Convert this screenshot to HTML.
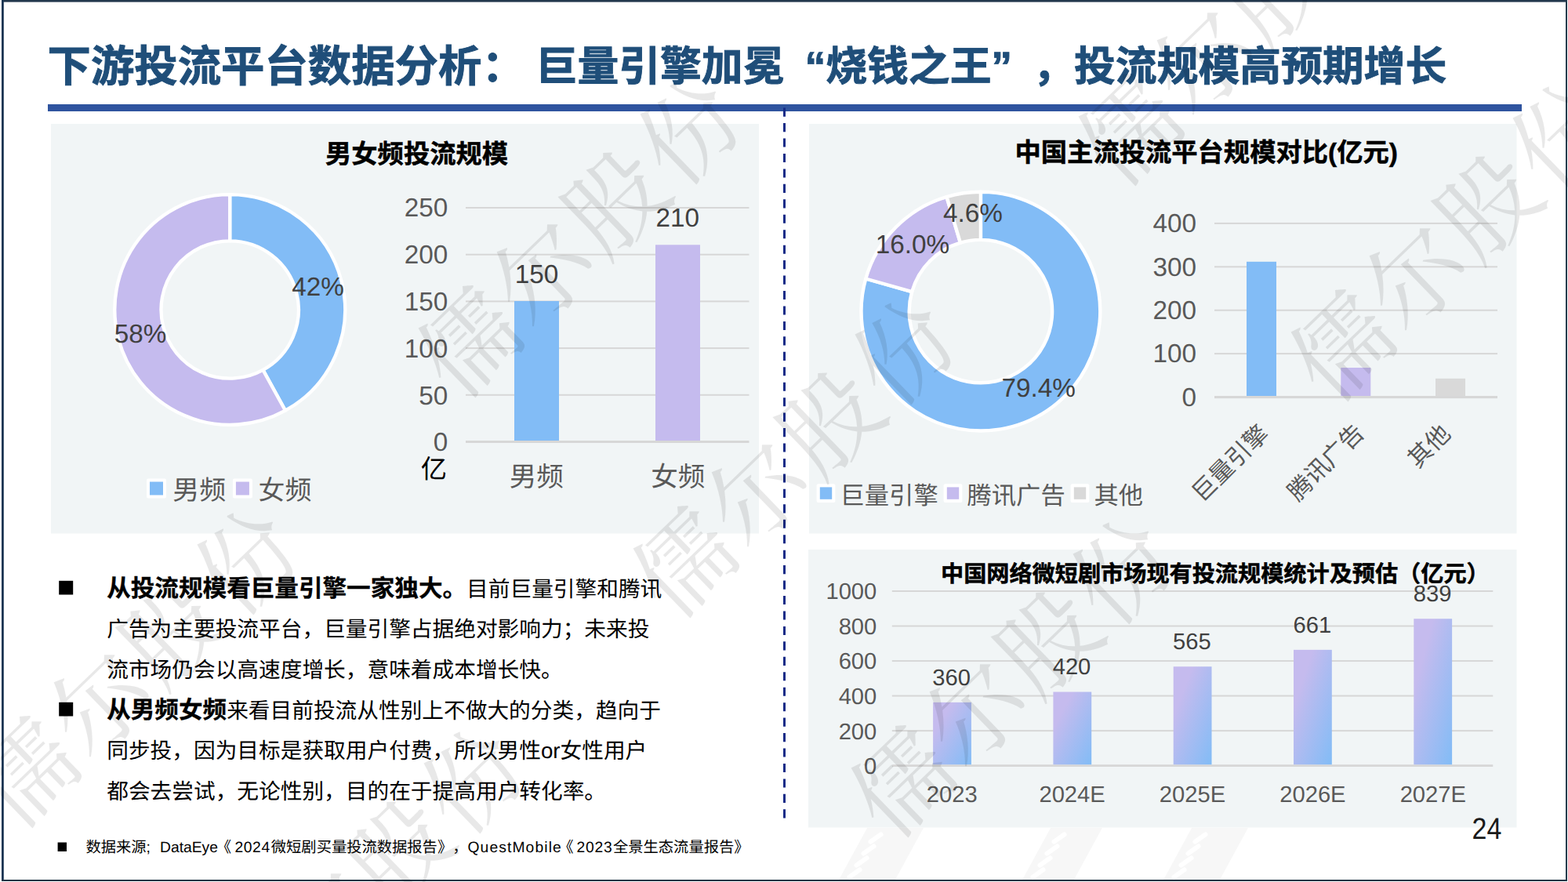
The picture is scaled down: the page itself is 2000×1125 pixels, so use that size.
<!DOCTYPE html>
<html lang="zh-CN">
<head>
<meta charset="utf-8">
<title>下游投流平台数据分析</title>
<style>
html,body{margin:0;padding:0}
body{width:2000px;height:1125px;position:relative;overflow:hidden;background:#fff;font-family:"Liberation Sans","Noto Sans CJK SC",sans-serif;color:#000;text-rendering:geometricPrecision;text-spacing-trim:space-all}
.t{position:absolute;white-space:nowrap;line-height:1;margin:0}
.c{transform:translateX(-50%)}
.r{transform:translateX(-100%)}
.ax{color:#595959;font-size:33.3px}
.dl{color:#404040;font-size:33.3px}
.ax3{color:#595959;font-size:29.17px}
.dl3{color:#404040;font-size:29.17px}
.h{font-weight:bold;color:#000;-webkit-text-stroke:0.5px #000}
.ttl{color:#1F4E79;-webkit-text-stroke:0.9px #1F4E79}
.q{display:inline-block;width:1em}
.rot{position:absolute;white-space:nowrap;line-height:1;font-size:30.6px;color:#595959;transform-origin:100% 50%;transform:translate(-100%,-50%) rotate(-45deg)}

.ft{top:1071.5px;font-size:19.3px}
p.body{position:absolute;left:136.2px;margin:0;font-size:27.7px;line-height:51.5px;white-space:nowrap}
p.body b{font-size:30.6px;-webkit-text-stroke:0.3px #000}
</style>
</head>
<body>
<svg class="t" style="left:0;top:0" width="2000" height="1125" viewBox="0 0 2000 1125">
<defs><linearGradient id="gb" x1="0" y1="0" x2="1" y2="1"><stop offset="0.25" stop-color="#C5BBEE"/><stop offset="1" stop-color="#82BCF6"/></linearGradient></defs>
<rect x="65" y="158" width="903" height="522.5" fill="#F1F5F6"/>
<rect x="1032" y="158" width="902.5" height="522.5" fill="#F1F5F6"/>
<rect x="1031" y="701" width="903.5" height="354.5" fill="#F1F5F6"/>
<polygon points="1070,1122 1142,1122 1178,1056 1106,1056" fill="#000" fill-opacity="0.03"/>
<polygon points="1304,1122 1370,1122 1406,1056 1340,1056" fill="#000" fill-opacity="0.03"/>
<polygon points="1484,1122 1556,1122 1592,1056 1520,1056" fill="#000" fill-opacity="0.03"/>
<rect x="1106" y="1066" width="22" height="6" rx="3" fill="#fff" transform="rotate(-35 1117 1069)"/>
<rect x="1097" y="1081" width="22" height="6" rx="3" fill="#fff" transform="rotate(-35 1108 1084)"/>
<rect x="1088" y="1096" width="22" height="6" rx="3" fill="#fff" transform="rotate(-35 1099 1099)"/>
<rect x="1079" y="1111" width="22" height="6" rx="3" fill="#fff" transform="rotate(-35 1090 1114)"/>
<rect x="1340" y="1066" width="22" height="6" rx="3" fill="#fff" transform="rotate(-35 1351 1069)"/>
<rect x="1331" y="1081" width="22" height="6" rx="3" fill="#fff" transform="rotate(-35 1342 1084)"/>
<rect x="1322" y="1096" width="22" height="6" rx="3" fill="#fff" transform="rotate(-35 1333 1099)"/>
<rect x="1313" y="1111" width="22" height="6" rx="3" fill="#fff" transform="rotate(-35 1324 1114)"/>
<rect x="1520" y="1066" width="22" height="6" rx="3" fill="#fff" transform="rotate(-35 1531 1069)"/>
<rect x="1511" y="1081" width="22" height="6" rx="3" fill="#fff" transform="rotate(-35 1522 1084)"/>
<rect x="1502" y="1096" width="22" height="6" rx="3" fill="#fff" transform="rotate(-35 1513 1099)"/>
<rect x="1493" y="1111" width="22" height="6" rx="3" fill="#fff" transform="rotate(-35 1504 1114)"/>
<rect x="594" y="502.80" width="361.5" height="2" fill="#D7D7D7"/>
<rect x="594" y="443.10" width="361.5" height="2" fill="#D7D7D7"/>
<rect x="594" y="383.40" width="361.5" height="2" fill="#D7D7D7"/>
<rect x="594" y="323.70" width="361.5" height="2" fill="#D7D7D7"/>
<rect x="594" y="264.00" width="361.5" height="2" fill="#D7D7D7"/>
<rect x="594" y="562.00" width="361.5" height="3" fill="#D7D7D7"/>
<rect x="656" y="384" width="57" height="178.00" fill="#82BCF6"/>
<rect x="836" y="312.3" width="57" height="249.70" fill="#C5BBEE"/>
<path d="M293.20 248.10A146.9 146.9 0 0 1 363.97 523.73L335.45 471.85A87.7 87.7 0 0 0 293.20 307.30Z" fill="#82BCF6" stroke="#fff" stroke-width="4.3" stroke-linejoin="round"/>
<path d="M363.97 523.73A146.9 146.9 0 1 1 293.20 248.10L293.20 307.30A87.7 87.7 0 1 0 335.45 471.85Z" fill="#C5BBEE" stroke="#fff" stroke-width="4.3" stroke-linejoin="round"/>
<rect x="1549" y="450.14" width="361" height="2" fill="#D7D7D7"/>
<rect x="1549" y="394.73" width="361" height="2" fill="#D7D7D7"/>
<rect x="1549" y="339.32" width="361" height="2" fill="#D7D7D7"/>
<rect x="1549" y="283.91" width="361" height="2" fill="#D7D7D7"/>
<rect x="1549" y="505.00" width="361" height="3.1" fill="#D7D7D7"/>
<rect x="1590" y="333.8" width="38" height="171.20" fill="#82BCF6"/>
<rect x="1710.3" y="469" width="38" height="36.00" fill="#C5BBEE"/>
<rect x="1831" y="482.8" width="38" height="22.20" fill="#D9D9D9"/>
<path d="M1250.90 244.70A152.4 152.4 0 1 1 1104.29 355.50L1163.16 372.21A91.2 91.2 0 1 0 1250.90 305.90Z" fill="#82BCF6" stroke="#fff" stroke-width="4.4" stroke-linejoin="round"/>
<path d="M1104.29 355.50A152.4 152.4 0 0 1 1207.46 251.02L1224.91 309.68A91.2 91.2 0 0 0 1163.16 372.21Z" fill="#C5BBEE" stroke="#fff" stroke-width="4.4" stroke-linejoin="round"/>
<path d="M1207.46 251.02A152.4 152.4 0 0 1 1250.90 244.70L1250.90 305.90A91.2 91.2 0 0 0 1224.91 309.68Z" fill="#D9D9D9" stroke="#fff" stroke-width="4.4" stroke-linejoin="round"/>
<rect x="1137.8" y="931.08" width="766.5" height="2" fill="#D7D7D7"/>
<rect x="1137.8" y="886.56" width="766.5" height="2" fill="#D7D7D7"/>
<rect x="1137.8" y="842.04" width="766.5" height="2" fill="#D7D7D7"/>
<rect x="1137.8" y="797.52" width="766.5" height="2" fill="#D7D7D7"/>
<rect x="1137.8" y="753.00" width="766.5" height="2" fill="#D7D7D7"/>
<rect x="1137.8" y="975.20" width="766.5" height="2.8" fill="#D7D7D7"/>
<rect x="1190.10" y="895.86" width="48.8" height="79.34" fill="url(#gb)"/>
<rect x="1343.40" y="882.51" width="48.8" height="92.69" fill="url(#gb)"/>
<rect x="1496.70" y="850.23" width="48.8" height="124.97" fill="url(#gb)"/>
<rect x="1650.00" y="828.86" width="48.8" height="146.34" fill="url(#gb)"/>
<rect x="1803.30" y="789.24" width="48.8" height="185.96" fill="url(#gb)"/>
<rect x="187" y="610.5" width="25" height="25" rx="2" fill="#fff"/><rect x="191" y="614.5" width="17" height="17" fill="#82BCF6"/>
<rect x="296.9" y="610.5" width="25" height="25" rx="2" fill="#fff"/><rect x="300.9" y="614.5" width="17" height="17" fill="#C5BBEE"/>
<rect x="1041.6" y="617.1999999999999" width="23.8" height="23.8" rx="2" fill="#fff"/><rect x="1045.8" y="621.4" width="15.4" height="15.4" fill="#82BCF6"/>
<rect x="1203.6" y="617.1999999999999" width="23.8" height="23.8" rx="2" fill="#fff"/><rect x="1207.8" y="621.4" width="15.4" height="15.4" fill="#C5BBEE"/>
<rect x="1365.6" y="617.1999999999999" width="23.8" height="23.8" rx="2" fill="#fff"/><rect x="1369.8" y="621.4" width="15.4" height="15.4" fill="#D9D9D9"/>
<rect x="61" y="133" width="1880" height="9" fill="#2F549F"/>
<line x1="1000.5" y1="137.6" x2="1000.5" y2="1043.5" stroke="#142B87" stroke-width="3" stroke-dasharray="11.1 8.35"/>
<rect x="75.2" y="740.8" width="18" height="17.7" fill="#000"/>
<rect x="75.2" y="895.8" width="18" height="17.7" fill="#000"/>
<rect x="73.6" y="1074.5" width="11.4" height="11.5" fill="#000"/>
<rect x="2" y="0" width="1997" height="2.6" fill="#23384D"/>
<rect x="2" y="0" width="2.8" height="1124" fill="#1A3553"/>
<rect x="1997" y="0" width="2" height="1124" fill="#243A4C"/>
<rect x="2" y="1122" width="1997" height="2" fill="#1F3444"/>
</svg>

<div class="t h ttl" style="left:60.5px;top:57.5px;font-size:55.4px">下游投流平台数据分析：</div>
<div class="t h ttl" style="left:683.7px;top:59.8px;font-size:52.8px">巨量引擎加冕<span class="q" style="text-align:right">“</span>烧钱之王<span class="q" style="text-align:left">”</span>，投流规模高预期增长</div>

<div class="t h" style="left:415px;top:180.6px;font-size:33.3px">男女频投流规模</div>
<div class="t h" style="left:1294.5px;top:178.7px;font-size:33.3px">中国主流投流平台规模对比(亿元)</div>
<div class="t h" style="left:1200px;top:718.5px;font-size:29.17px">中国网络微短剧市场现有投流规模统计及预估（亿元）</div>

<!-- chart 1 -->
<div class="t ax r" style="left:571.2px;top:249.2px">250</div>
<div class="t ax r" style="left:571.2px;top:308.8px">200</div>
<div class="t ax r" style="left:571.2px;top:369.2px">150</div>
<div class="t ax r" style="left:571.2px;top:428.9px">100</div>
<div class="t ax r" style="left:571.2px;top:488.5px">50</div>
<div class="t ax r" style="left:571.2px;top:548.1px">0</div>
<div class="t" style="left:536.8px;top:583.3px;font-size:33.3px">亿</div>
<div class="t dl c" style="left:684.5px;top:334px">150</div>
<div class="t dl c" style="left:864.3px;top:262px">210</div>
<div class="t ax c" style="left:684.3px;top:592.3px;font-size:34.6px">男频</div>
<div class="t ax c" style="left:864.8px;top:592.3px;font-size:34.6px">女频</div>
<div class="t dl c" style="left:405.5px;top:350px">42%</div>
<div class="t dl c" style="left:179px;top:409.5px">58%</div>
<div class="t ax" style="left:220.3px;top:610px;font-size:33.9px">男频</div>
<div class="t ax" style="left:329.6px;top:610px;font-size:33.9px">女频</div>

<!-- chart 2 -->
<div class="t ax r" style="left:1526px;top:269.1px">400</div>
<div class="t ax r" style="left:1526px;top:324.5px">300</div>
<div class="t ax r" style="left:1526px;top:379.9px">200</div>
<div class="t ax r" style="left:1526px;top:435.3px">100</div>
<div class="t ax r" style="left:1526px;top:490.7px">0</div>
<div class="t dl c" style="left:1241px;top:255.5px">4.6%</div>
<div class="t dl c" style="left:1164px;top:296px">16.0%</div>
<div class="t dl c" style="left:1324.7px;top:479px">79.4%</div>
<div class="t ax" style="left:1071.5px;top:616.8px;font-size:31.3px">巨量引擎</div>
<div class="t ax" style="left:1233.5px;top:616.8px;font-size:31.3px">腾讯广告</div>
<div class="t ax" style="left:1395.5px;top:616.8px;font-size:31.3px">其他</div>
<div class="rot" style="left:1613px;top:548px">巨量引擎</div>
<div class="rot" style="left:1735px;top:546.8px">腾讯广告</div>
<div class="rot" style="left:1845px;top:547.5px">其他</div>

<!-- chart 3 -->
<div class="t ax3 r" style="left:1118.3px;top:741.4px">1000</div>
<div class="t ax3 r" style="left:1118.3px;top:785.9px">800</div>
<div class="t ax3 r" style="left:1118.3px;top:830.4px">600</div>
<div class="t ax3 r" style="left:1118.3px;top:875px">400</div>
<div class="t ax3 r" style="left:1118.3px;top:919.5px">200</div>
<div class="t ax3 r" style="left:1118.3px;top:964px">0</div>
<div class="t dl3 c" style="left:1213.6px;top:850.8px">360</div>
<div class="t dl3 c" style="left:1367.0px;top:837.4px">420</div>
<div class="t dl3 c" style="left:1520.4px;top:805.1px">565</div>
<div class="t dl3 c" style="left:1673.8px;top:783.8px">661</div>
<div class="t dl3 c" style="left:1827.2px;top:744.1px">839</div>
<div class="t ax3 c" style="left:1214.2px;top:999.6px">2023</div>
<div class="t ax3 c" style="left:1367.6px;top:999.6px">2024E</div>
<div class="t ax3 c" style="left:1521.0px;top:999.6px">2025E</div>
<div class="t ax3 c" style="left:1674.4px;top:999.6px">2026E</div>
<div class="t ax3 c" style="left:1827.8px;top:999.6px">2027E</div>

<div class="t" style="left:1877.5px;top:1040.5px;font-size:34px;color:#1a1a1a;transform:scaleY(1.13);transform-origin:50% 50%">24</div>

<!-- body text -->
<p class="body" style="top:725.5px"><b>从投流规模看巨量引擎一家独大。</b>目前巨量引擎和腾讯<br>广告为主要投流平台，巨量引擎占据绝对影响力；未来投<br>流市场仍会以高速度增长，意味着成本增长快。</p>
<p class="body" style="top:880.5px"><b>从男频女频</b>来看目前投流从性别上不做大的分类，趋向于<br>同步投，因为目标是获取用户付费，所以男性or女性用户<br>都会去尝试，无论性别，目的在于提高用户转化率。</p>

<div class="t ft" style="left:109.5px">数据来源;</div>
<div class="t ft" style="left:204px">DataEye</div>
<div class="t ft" style="left:275.8px">《<span style="letter-spacing:0.6px;margin-left:4.4px">2024</span></div>
<div class="t ft" style="left:345.8px">微短剧买量投流数据报告》，</div>
<div class="t ft" style="left:596.5px;letter-spacing:1.1px">QuestMobile</div>
<div class="t ft" style="left:712.3px">《<span style="letter-spacing:0.8px;margin-left:3.8px">2023</span></div>
<div class="t ft" style="left:782px">全景生态流量报告》</div>

<!-- watermark -->
<svg class="t" style="left:0;top:0" width="2000" height="1125" viewBox="0 0 2000 1125" aria-hidden="true">
<g fill="#000" fill-opacity="0.092" font-family='"Liberation Serif","Noto Serif CJK SC",serif' font-size="125" letter-spacing="4.5">
<text transform="translate(598.0 436.0) rotate(-44)" x="-62.5" y="47.5">儒尔股份</text>
<text transform="translate(1711.0 441.0) rotate(-44)" x="-62.5" y="47.5">儒尔股份</text>
<text transform="translate(1440.0 166.0) rotate(-44)" x="-62.5" y="47.5">儒尔股份</text>
<text transform="translate(872.0 717.0) rotate(-44)" x="-62.5" y="47.5">儒尔股份</text>
<text transform="translate(33.0 985.0) rotate(-44)" x="-62.5" y="47.5">儒尔股份</text>
<text transform="translate(1150.0 997.0) rotate(-44)" x="-62.5" y="47.5">儒尔股份</text>
<text transform="translate(322.0 1264.0) rotate(-44)" x="-62.5" y="47.5">儒尔股份</text>
</g>
</svg>
</body>
</html>
